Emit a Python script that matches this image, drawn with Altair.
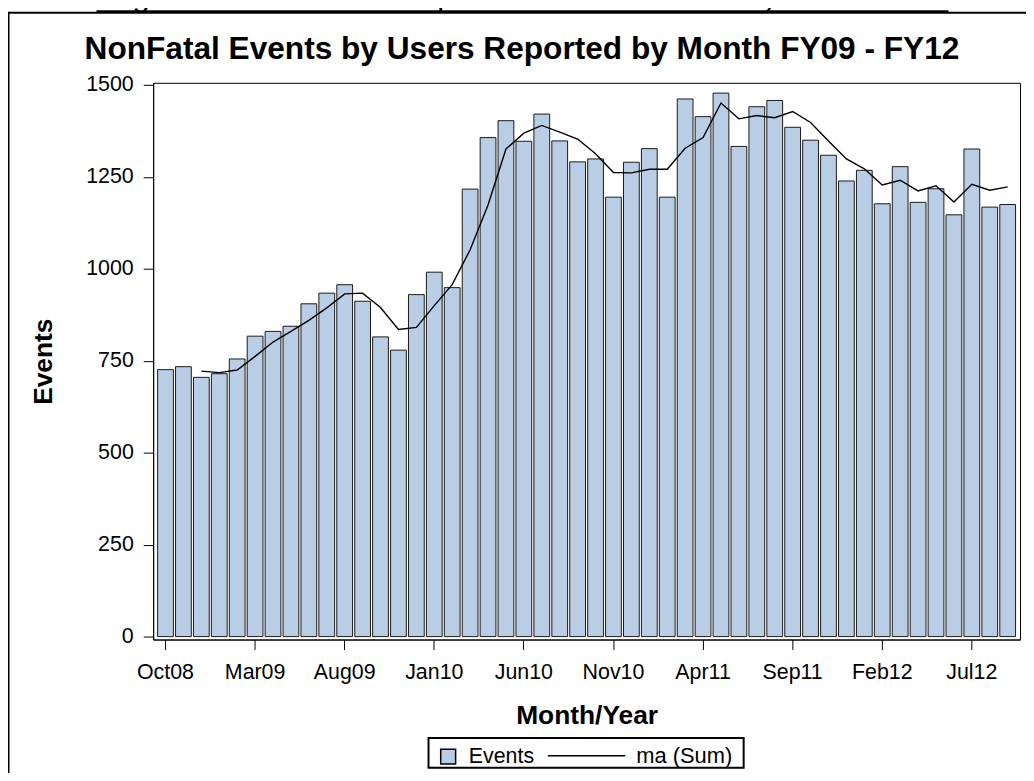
import altair as alt
import pandas as pd

months = ["Oct08", "Nov08", "Dec08", "Jan09", "Feb09", "Mar09", "Apr09", "May09",
          "Jun09", "Jul09", "Aug09", "Sep09", "Oct09", "Nov09", "Dec09", "Jan10",
          "Feb10", "Mar10", "Apr10", "May10", "Jun10", "Jul10", "Aug10", "Sep10",
          "Oct10", "Nov10", "Dec10", "Jan11", "Feb11", "Mar11", "Apr11", "May11",
          "Jun11", "Jul11", "Aug11", "Sep11", "Oct11", "Nov11", "Dec11", "Jan12",
          "Feb12", "Mar12", "Apr12", "May12", "Jun12", "Jul12", "Aug12", "Sep12"]

events = [726, 734, 705, 715, 755, 817, 830, 844, 905, 934, 957, 912,
          815, 779, 930, 991, 949, 1217, 1357, 1403, 1347, 1421, 1348, 1291,
          1299, 1195, 1290, 1327, 1195, 1462, 1414, 1478, 1333, 1441, 1458, 1385,
          1350, 1309, 1239, 1268, 1177, 1278, 1181, 1218, 1147, 1326, 1168, 1175]

# moving-average line (starts at Dec08)
ma_months = ["Dec08", "Jan09", "Feb09", "Mar09", "Apr09", "May09",
             "Jun09", "Jul09", "Aug09", "Sep09", "Oct09", "Nov09", "Dec09", "Jan10",
             "Feb10", "Mar10", "Apr10", "May10", "Jun10", "Jul10", "Aug10", "Sep10",
             "Oct10", "Nov10", "Dec10", "Jan11", "Feb11", "Mar11", "Apr11", "May11",
             "Jun11", "Jul11", "Aug11", "Sep11", "Oct11", "Nov11", "Dec11", "Jan12",
             "Feb12", "Mar12", "Apr12", "May12", "Jun12", "Jul12", "Aug12", "Sep12"]
ma_values = [722, 718, 725, 762, 801, 830, 860, 894, 932, 934,
             895, 835, 841, 900, 957, 1052, 1174, 1326, 1369, 1390,
             1372, 1353, 1313, 1262, 1261, 1271, 1271, 1328, 1357, 1451,
             1408, 1417, 1411, 1428, 1398, 1348, 1299, 1272, 1228, 1241,
             1212, 1226, 1182, 1230, 1214, 1223]

tick_months = ["Oct08", "Mar09", "Aug09", "Jan10", "Jun10", "Nov10",
               "Apr11", "Sep11", "Feb12", "Jul12"]
y_ticks = [0, 250, 500, 750, 1000, 1250, 1500]

title_text = "NonFatal Events by Users Reported by Month FY09 - FY12"
caption_text = "Figure 7 : Number of Reported Suicide Events by Fiscal Year"
bar_label = "Events"
line_label = "ma (Sum)"

FONT = "Liberation Sans"
BAR_FILL = "#b9cde5"

bars_df = pd.DataFrame({"month": months, "value": events, "series": bar_label})
line_df = pd.DataFrame({"month": ma_months, "value": ma_values, "series": line_label})
one = pd.DataFrame({"a": [0]})

x_enc = alt.X(
    "month:N", sort=months,
    scale=alt.Scale(domain=months, paddingInner=0.12, paddingOuter=0.25),
    axis=alt.Axis(values=tick_months, title="Month/Year", labelAngle=0,
                  tickSize=10, labelPadding=29, labelBaseline="alphabetic",
                  titleBaseline="alphabetic", titleY=84),
)
y_enc = alt.Y(
    "value:Q",
    scale=alt.Scale(domain=[-8, 1506], nice=False),
    axis=alt.Axis(values=y_ticks, format="d", title="Events", tickSize=10,
                  labelPadding=10, titleAngle=270, titleBaseline="alphabetic",
                  titleAlign="center", titleX=-102, titleY=280),
)

bars = alt.Chart(bars_df).mark_bar(stroke="#1a1a1a", strokeWidth=1).encode(
    x=x_enc,
    y=y_enc,
    y2=alt.datum(0),
    fill=alt.Fill("series:N",
                  scale=alt.Scale(domain=[bar_label], range=[BAR_FILL]),
                  legend=alt.Legend(title=None, orient="none", legendX=286, legendY=667,
                                    symbolType="square", symbolSize=225,
                                    symbolStrokeColor="black", symbolStrokeWidth=1.5,
                                    symbolOpacity=1,
                                    labelFont=FONT, labelFontSize=21.5, labelColor="black",
                                    labelOffset=10, padding=0)),
)

line = alt.Chart(line_df).mark_line(strokeWidth=1.4).encode(
    x=x_enc,
    y=y_enc,
    stroke=alt.Stroke("series:N",
                      scale=alt.Scale(domain=[line_label], range=["black"]),
                      legend=alt.Legend(title=None, orient="none", legendX=396, legendY=637,
                                        symbolType="stroke", symbolSize=6084,
                                        symbolStrokeWidth=1.5,
                                        labelFont=FONT, labelFontSize=22, labelColor="black",
                                        labelOffset=10, padding=0)),
)

legend_frame = alt.Chart(one).mark_rect(fill="transparent", stroke="black", strokeWidth=2).encode(
    x=alt.value(277), x2=alt.value(594), y=alt.value(659), y2=alt.value(689)
)

main_title = alt.Chart(one).mark_text(
    text=title_text, font=FONT, fontSize=31.8, fontWeight="bold", align="center",
    baseline="alphabetic", color="black"
).encode(x=alt.value(371), y=alt.value(-24))

caption = alt.Chart(one).mark_text(
    text=caption_text, font=FONT, fontSize=31, align="center", baseline="alphabetic",
    color="black"
).encode(x=alt.value(371), y=alt.value(-77))

caption_underline = alt.Chart(one).mark_rule(color="black", strokeWidth=1.8).encode(
    x=alt.value(-57), x2=alt.value(800), y=alt.value(-72.2)
)

frame_top = alt.Chart(one).mark_rule(color="black", strokeWidth=2).encode(
    x=alt.value(-146), x2=alt.value(885), y=alt.value(-70.5)
)
frame_left = alt.Chart(one).mark_rule(color="black", strokeWidth=2).encode(
    x=alt.value(-145.5), y=alt.value(-71), y2=alt.value(710)
)

chart = alt.layer(
    bars, line, legend_frame, main_title, caption, caption_underline, frame_top, frame_left
).properties(
    width=872,
    height=560,
    autosize=alt.AutoSizeParams(type="none"),
    padding={"left": 146, "top": 73, "right": 6, "bottom": 132},
).configure_view(
    stroke="black", strokeWidth=1
).configure_axis(
    domainColor="black", tickColor="black", labelColor="black", titleColor="black",
    labelFont=FONT, titleFont=FONT, labelFontSize=21.5, titleFontSize=26.5,
    titleFontWeight="bold", grid=False, domainWidth=1, tickWidth=1
)

chart.save("out.html", embed_options={"renderer": "svg", "actions": False})
